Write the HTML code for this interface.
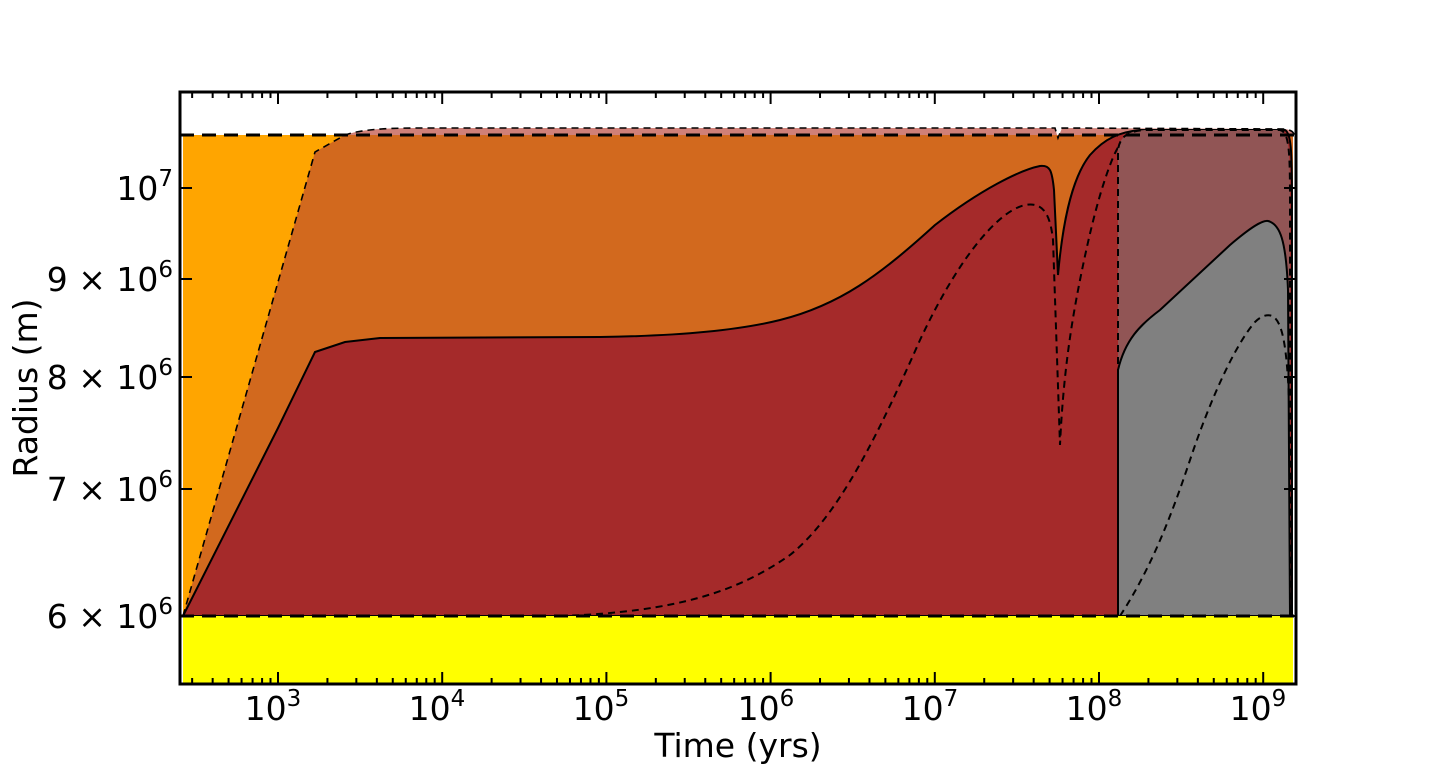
<!DOCTYPE html>
<html><head><meta charset="utf-8"><style>
html,body{margin:0;padding:0;background:#fff;width:1440px;height:768px;overflow:hidden}
svg text{font-family:"DejaVu Sans","Liberation Sans",sans-serif;fill:#000}
</style></head><body>
<svg id="s" width="1440" height="768" viewBox="0 0 1440 768" xmlns="http://www.w3.org/2000/svg">
<defs><clipPath id="c"><rect x="180" y="92" width="1116" height="592"/></clipPath></defs>
<g clip-path="url(#c)">
<rect x="183" y="135" width="1110" height="481" fill="#FFA500"/>
<path d="M345,135 C360,130 380,128 420,128 L1055,128 L1058,138 L1062,128 L1285,129 C1292,130 1294,133 1294,135 Z" fill="#d08078"/>
<path d="M183,616 L315,152 L345,135 L1293,135 L1293,616 Z" fill="#D2691E"/>
<path d="M183,616 L278,428 L315,352 L345,342 L380,338 L600,337 C680,336 740,330 780,320 C840,305 880,275 935,225 C980,190 1020,170 1040,166 C1050,165 1052,170 1054,190 L1058,275 C1062,230 1070,180 1090,155 C1105,138 1120,132 1140,130 L1285,130 C1291,133 1292,150 1292,200 L1292,616 Z" fill="#A52A2A" stroke="#000" stroke-width="2"/>
<path d="M560,616 C680,612 740,590 790,555 C840,515 880,430 920,340 C955,265 995,212 1025,205 C1042,202 1050,212 1053,240 L1060,445 C1063,380 1070,330 1080,280 C1090,230 1100,190 1112,160 C1118,145 1125,135 1135,131" fill="none" stroke="#000" stroke-width="2" stroke-dasharray="7,5"/>
<path d="M1118,616 L1118,150 C1120,135 1130,131 1145,130 L1280,130 C1289,132 1290,150 1290,200 L1290,616 Z" fill="#915555" stroke="#000" stroke-width="2" stroke-dasharray="7,5"/>
<path d="M1118,616 L1118,370 C1125,340 1140,325 1160,310 L1230,245 C1250,228 1262,220 1268,221 C1280,224 1286,240 1288,290 L1290,616 Z" fill="#808080" stroke="#000" stroke-width="2"/>
<path d="M1120,616 C1150,570 1170,520 1190,460 C1210,400 1235,345 1255,322 C1262,315 1270,313 1275,318 C1283,326 1287,350 1289,400" fill="none" stroke="#000" stroke-width="2" stroke-dasharray="7,5"/>
<path d="M183,616 L315,152 L345,135 C360,130 380,128 420,128 L1055,128 L1058,138 L1062,128 L1285,129 C1292,130 1294,133 1294,135" fill="none" stroke="#000" stroke-width="1.6" stroke-dasharray="7,5"/>
<rect x="183" y="616" width="1110" height="68" fill="#FFFF00"/>
<line x1="180" y1="135" x2="1296" y2="135" stroke="#000" stroke-width="3" stroke-dasharray="14,8"/>
<line x1="180" y1="616" x2="1296" y2="616" stroke="#000" stroke-width="3" stroke-dasharray="14,8"/>
</g>
<g id="ticks" stroke="#000"></g>
<rect x="180" y="92" width="1116" height="592" fill="none" stroke="#000" stroke-width="3"/>
<g font-size="33" text-anchor="end">
<text x="173" y="200">10<tspan font-size="23" dy="-14">7</tspan></text>
<text x="173" y="291">9 × 10<tspan font-size="23" dy="-14">6</tspan></text>
<text x="173" y="389">8 × 10<tspan font-size="23" dy="-14">6</tspan></text>
<text x="173" y="501">7 × 10<tspan font-size="23" dy="-14">6</tspan></text>
<text x="173" y="628">6 × 10<tspan font-size="23" dy="-14">6</tspan></text>
</g>
<g font-size="33" text-anchor="middle">
<text x="273" y="720">10<tspan font-size="23" dy="-14">3</tspan></text>
<text x="437" y="720">10<tspan font-size="23" dy="-14">4</tspan></text>
<text x="601" y="720">10<tspan font-size="23" dy="-14">5</tspan></text>
<text x="766" y="720">10<tspan font-size="23" dy="-14">6</tspan></text>
<text x="930" y="720">10<tspan font-size="23" dy="-14">7</tspan></text>
<text x="1094" y="720">10<tspan font-size="23" dy="-14">8</tspan></text>
<text x="1258" y="720">10<tspan font-size="23" dy="-14">9</tspan></text>
<text x="738" y="757">Time (yrs)</text>
<text transform="translate(37,388) rotate(-90)">Radius (m)</text>
</g>
</svg>
<script>
var g=document.getElementById('ticks'),h='';
function X(l){return 278+164.2*(l-3);}
for(var d=2;d<=9;d++){for(var m=1;m<=9;m++){var x=X(d+Math.log10(m));if(x<181||x>1295)continue;var L=m==1?12:6;
h+='<line x1="'+x+'" y1="684" x2="'+x+'" y2="'+(684-L)+'" stroke-width="2"/>';
h+='<line x1="'+x+'" y1="92" x2="'+x+'" y2="'+(92+L)+'" stroke-width="2"/>';}}
[188,279,377,489,616].forEach(function(y){h+='<line x1="180" y1="'+y+'" x2="192" y2="'+y+'" stroke-width="2"/><line x1="1296" y1="'+y+'" x2="1284" y2="'+y+'" stroke-width="2"/>';});
g.innerHTML=h;
</script>
</body></html>
